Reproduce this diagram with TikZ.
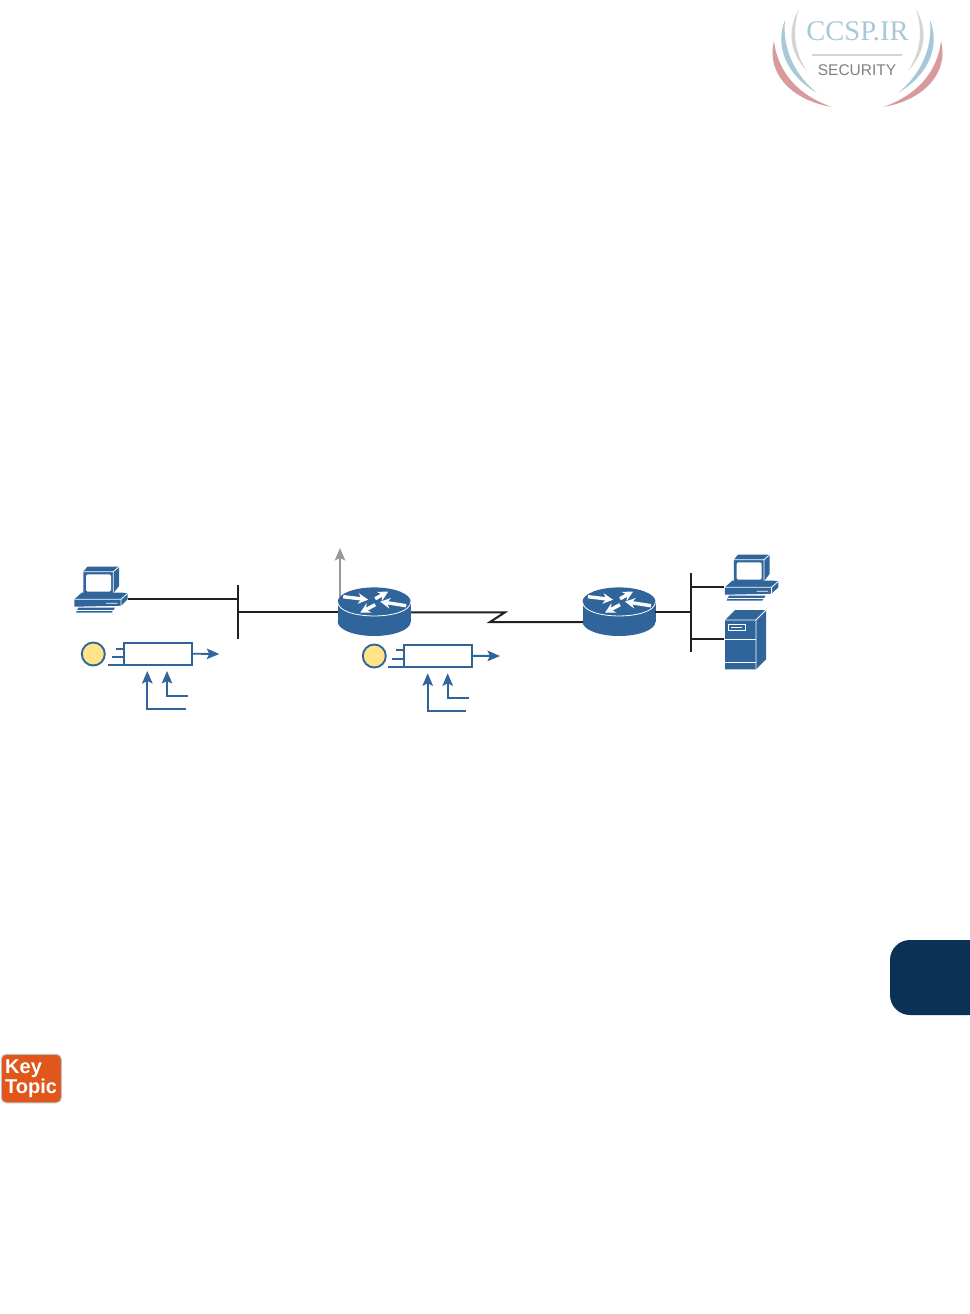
\documentclass[tikz,border=0pt]{standalone}
\usepackage{fontspec}
\setmainfont{Liberation Sans}
\newfontfamily\logofont{Liberation Serif}
\usetikzlibrary{positioning,arrows.meta}
\definecolor{netblue}{HTML}{2F659B}
\definecolor{netblack}{HTML}{231F20}
\definecolor{qyellow}{HTML}{FFE38B}
\definecolor{tabnavy}{HTML}{0B3157}
\definecolor{keyorange}{HTML}{E0561B}
\definecolor{logored}{HTML}{D89A9A}
\definecolor{logoblue}{HTML}{A8C8D8}
\definecolor{logogray}{HTML}{D4D4D4}

\begin{document}
\begin{tikzpicture}[
  x=1pt, y=-1pt,
  >={Stealth[length=12.5pt,width=10.5pt,inset=2.5pt]},
  lan/.style={draw=netblack, line width=2pt},
  qline/.style={draw=netblue, line width=1.9pt},
  qbox/.style={draw=netblue, line width=1.9pt, fill=white, minimum width=67.5pt, minimum height=22pt, inner sep=0pt},
  qdot/.style={circle, draw=netblue, line width=1.9pt, fill=qyellow, minimum size=23pt, inner sep=0pt},
  rim/.style={draw=white, line width=0.8pt},
  rarrow/.style={->, draw=white, line width=3.4pt, >={Stealth[length=10pt,width=10.5pt]}},
  router/.pic={
    \fill[netblue] (0,20) ellipse [x radius=36.5, y radius=14.3];
    \fill[netblue] (-36.5,0) rectangle (36.5,20);
    \fill[netblue] (0,0) ellipse [x radius=36.5, y radius=14.3];
    \draw[rim] (-36.5,0) .. controls (-36.5,19) and (36.5,19) .. (36.5,0);
    \draw[rarrow] (-31,-5) -- (-6,-2);
    \draw[rarrow] (1,-3) -- (14,-10);
    \draw[rarrow] (32,4) -- (6,0);
    \draw[rarrow] (1,3) -- (-14,11);
  },
  pc/.pic={
    \fill[netblue] (-16.7,-18.3) -- (-12.7,-23.3) -- (19,-23.3) -- (19,-4) -- (13.3,3.3) -- (-16.7,3.3) -- cycle;
    \draw[rim] (-16.7,-18.3) -- (13.3,-18.3) -- (19,-23.3) (13.3,-18.3) -- (13.3,3.3);
    \fill[white, rounded corners=1.5pt] (-14,-15.7) rectangle (11,1.7);
    \fill[netblue] (-25.7,9.3) -- (-18.3,2.7) -- (23.3,2.7) -- (27.7,3.3) -- (27.7,9.3) -- (21,15.7) -- (-25.7,16.7) -- cycle;
    \draw[rim] (-25.7,9.3) -- (21,9.3) -- (27.7,3.3) (21,9.3) -- (21,15.7) (6,13.3) -- (17.3,13.3);
    \fill[netblue] (-21.7,17.7) -- (15,17.7) -- (11.7,22.7) -- (-24,22.7) -- cycle;
    \draw[rim] (-23,20.7) -- (13,20.7);
  },
  tower/.pic={
    \fill[netblue] (0,10) -- (10,0) -- (41,0) -- (41,49.3) -- (31,59.3) -- (0,59.3) -- cycle;
    \draw[rim] (0,10) -- (31,10) -- (41,0) (31,10) -- (31,59.3);
    \draw[rim] (0,29.3) -- (31,29.3) (0,52.7) -- (31,52.7);
    \draw[rim] (3.3,14) rectangle (20,20.7) (6,17.3) -- (17,17.3);
  },
  swoosh/.pic={
    \fill[logogray] (799,9) .. controls (787,30) and (789,52) .. (807,71) .. controls (794,52) and (792,30) .. (799,9) -- cycle;
    \fill[logoblue] (785,20) .. controls (774,48) and (788,76) .. (817,93) .. controls (796,76) and (782,50) .. (785,20) -- cycle;
    \fill[logored] (774,41) .. controls (766,72) and (790,100) .. (832,107) .. controls (800,96) and (778,74) .. (774,41) -- cycle;
  }
]
\useasboundingbox (0,0) rectangle (969,1314);

% watermark
\pic at (0,0) {swoosh};
\pic[xscale=-1] at (1715,0) {swoosh};
\node[text=logoblue, font=\logofont\fontsize{28.5}{28.5}\selectfont, inner sep=0pt] (logo) at (857.5,31.5) {CCSP.IR};
\coordinate (ruleL) at (812,55);
\coordinate (ruleR) at (902,55);
\draw[logogray, line width=1.8pt] (ruleL) -- (ruleR);
\node[text=black!50, font=\fontsize{15.5}{15.5}\selectfont, inner sep=0pt] (sec) at (857,70.5) {SECURITY};

% devices
\pic at (100,590) {pc};
\pic at (750.6,578) {pc};
\pic at (725,610) {tower};
\coordinate (upTop) at (340,548);
\coordinate (upEnd) at (340,597);
\draw[->, draw=black!40, line width=1.8pt] (upEnd) -- (upTop);
\pic at (374.2,601.7) {router};
\pic at (619,601.7) {router};

% segments
\coordinate (pcA) at (128,599);
\coordinate (barAt) at (238,585);
\coordinate (barAb) at (238,639.3);
\coordinate (barAp) at (238,599);
\coordinate (barAr) at (238,611.7);
\coordinate (rtrAw) at (338,611.7);
\coordinate (rtrAe) at (411,612.3);
\coordinate (zigA) at (505,612.3);
\coordinate (zigB) at (490,622);
\coordinate (rtrBw) at (583,622);
\coordinate (rtrBe) at (655,611.7);
\coordinate (barBt) at (690.7,573.3);
\coordinate (barBb) at (690.7,651.7);
\coordinate (barBr) at (690.7,611.7);
\coordinate (barBp) at (690.7,586.7);
\coordinate (barBs) at (690.7,639.3);
\coordinate (pcB) at (724,586.7);
\coordinate (srv) at (724,639.3);
\draw[lan] (barAt) -- (barAb);
\draw[lan] (pcA) -- (barAp);
\draw[lan] (barAr) -- (rtrAw);
\draw[lan] (rtrAe) -- (zigA) -- (zigB) -- (rtrBw);
\draw[lan] (rtrBe) -- (barBr);
\draw[lan] (barBt) -- (barBb);
\draw[lan] (barBp) -- (pcB);
\draw[lan] (barBs) -- (srv);

% left queue
\node[qdot] (dotA) at (93.3,654) {};
\node[qbox] (qA) at (157.9,653.7) {};
\coordinate (qAout) at (219.3,654);
\draw[qline, ->] (qA.east) -- (qAout);
\coordinate (qAa) at (116,648.7);
\coordinate (qAb) at (112.3,656.7);
\coordinate (qAc) at (108.3,664.7);
\draw[qline] (qAa) -- (qAa -| qA.west);
\draw[qline] (qAb) -- (qAb -| qA.west);
\draw[qline] (qAc) -- (qAc -| qA.west);
\coordinate (qAlongEnd) at (185.7,709.3);
\coordinate (qAlongBend) at (147.3,709.3);
\coordinate (qAlongTip) at (147.3,671);
\draw[qline, ->] (qAlongEnd) -- (qAlongBend) -- (qAlongTip);
\coordinate (qAshortEnd) at (188.3,696);
\coordinate (qAshortBend) at (167,696);
\coordinate (qAshortTip) at (167,671);
\draw[qline, ->] (qAshortEnd) -- (qAshortBend) -- (qAshortTip);

% right queue
\node[qdot] (dotB) at (374.3,656) {};
\node[qbox] (qB) at (438,655.8) {};
\coordinate (qBout) at (500,656);
\draw[qline, ->] (qB.east) -- (qBout);
\coordinate (qBa) at (396.3,650.3);
\coordinate (qBb) at (392.3,658.7);
\coordinate (qBc) at (388.3,666.7);
\draw[qline] (qBa) -- (qBa -| qB.west);
\draw[qline] (qBb) -- (qBb -| qB.west);
\draw[qline] (qBc) -- (qBc -| qB.west);
\coordinate (qBlongEnd) at (466,711);
\coordinate (qBlongBend) at (427.7,711);
\coordinate (qBlongTip) at (427.7,673.3);
\draw[qline, ->] (qBlongEnd) -- (qBlongBend) -- (qBlongTip);
\coordinate (qBshortEnd) at (468.7,697.7);
\coordinate (qBshortBend) at (447.7,697.7);
\coordinate (qBshortTip) at (447.7,673.3);
\draw[qline, ->] (qBshortEnd) -- (qBshortBend) -- (qBshortTip);

% page furniture
\fill[tabnavy, rounded corners=20pt] (1000,940) -- (890,940) -- (890,1015) -- (1000,1015) -- cycle;
\node[draw=black!25, line width=1pt, fill=keyorange, rounded corners=5pt, minimum width=60pt, minimum height=48.5pt, inner sep=0pt] (keyBox) at (31.3,1078.5) {};
\node[text=white, font=\bfseries\fontsize{20}{16.5}\selectfont, align=left, inner sep=0pt, anchor=west] (keyText) at (5,1078.5) {Key\\Topic};
\end{tikzpicture}
\end{document}
